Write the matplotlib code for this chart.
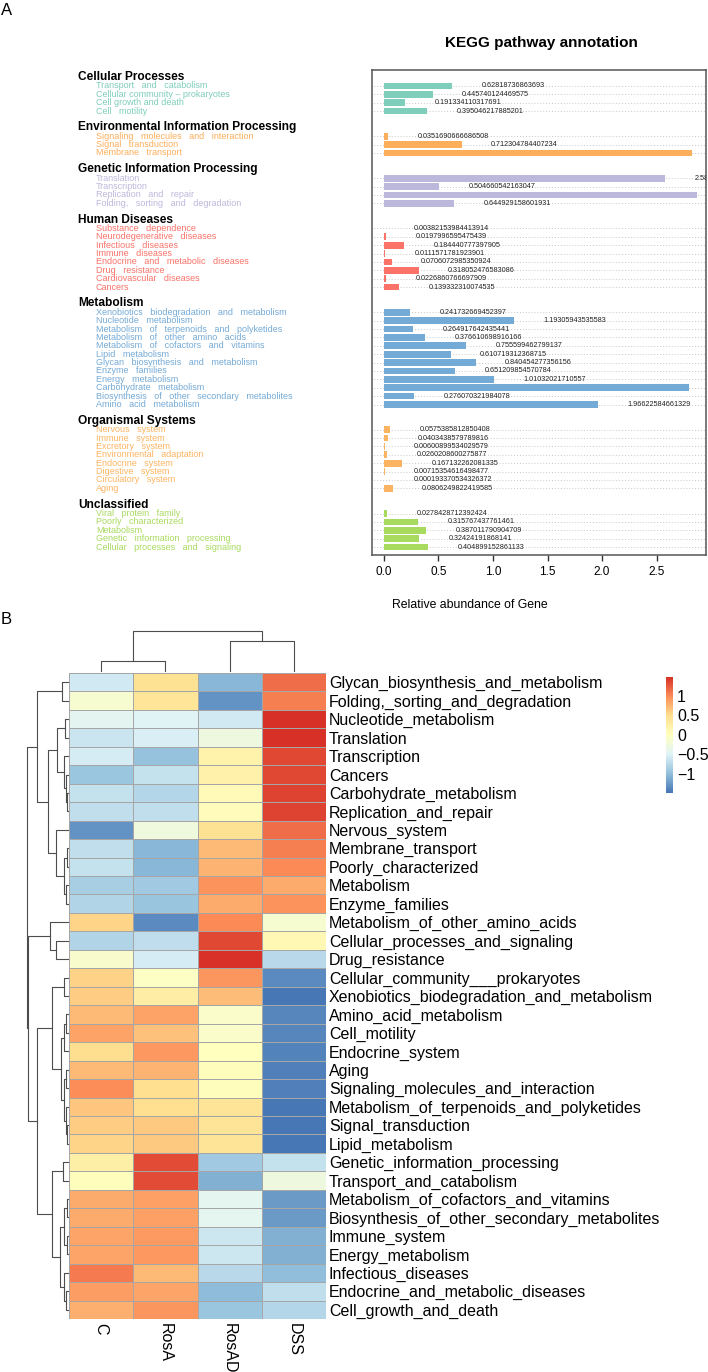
import matplotlib
matplotlib.use("Agg")
import matplotlib.pyplot as plt
from matplotlib import transforms
from matplotlib.colors import LinearSegmentedColormap

plt.rcParams['font.family'] = ['Liberation Sans', 'DejaVu Sans']

W, H = 708, 1372


def fx(px):
    return px / W


def fy(px):
    return 1 - px / H


# ---------------- Panel A: KEGG pathway annotation ----------------
groups = ["Cellular Processes", "Environmental Information Processing",
          "Genetic Information Processing", "Human Diseases", "Metabolism",
          "Organismal Systems", "Unclassified"]
group_colors = ["#7fcdbb", "#fdae5b", "#bcb8dc", "#fa7268", "#74aad6", "#fdb462", "#a8da5e"]

cellular_terms = ["Transport   and   catabolism", "Cellular community – prokaryotes",
                  "Cell growth and death", "Cell   motility"]
cellular_vals = [0.62818736863693, 0.445740124469575, 0.191334110317691, 0.395046217885201]

environ_terms = ["Signaling   molecules   and   interaction", "Signal   transduction",
                 "Membrane   transport"]
environ_vals = [0.0351690666686508, 0.712304784407234, 2.83]

genetic_terms = ["Translation", "Transcription", "Replication   and   repair",
                 "Folding,   sorting   and   degradation"]
genetic_vals = [2.58, 0.504660542163047, 2.87, 0.644929158601931]

disease_terms = ["Substance   dependence", "Neurodegenerative   diseases", "Infectious   diseases",
                 "Immune   diseases", "Endocrine   and   metabolic   diseases", "Drug   resistance",
                 "Cardiovascular   diseases", "Cancers"]
disease_vals = [0.00382153984413914, 0.0197996595475439, 0.184440777397905, 0.0111571781923901,
                0.0706072985350924, 0.318052476583086, 0.0226860766697909, 0.139332310074535]

metab_terms = ["Xenobiotics   biodegradation   and   metabolism", "Nucleotide   metabolism",
               "Metabolism   of   terpenoids   and   polyketides", "Metabolism   of   other   amino   acids",
               "Metabolism   of   cofactors   and   vitamins", "Lipid   metabolism",
               "Glycan   biosynthesis   and   metabolism", "Enzyme   families", "Energy   metabolism",
               "Carbohydrate   metabolism", "Biosynthesis   of   other   secondary   metabolites",
               "Amino   acid   metabolism"]
metab_vals = [0.241732669452397, 1.19305943535583, 0.264917642435441, 0.376610698916166,
              0.755599462799137, 0.610719312368715, 0.840454277356156, 0.651209854570784,
              1.01032021710557, 2.80, 0.276070321984078, 1.96622584661329]

organism_terms = ["Nervous   system", "Immune   system", "Excretory   system",
                  "Environmental   adaptation", "Endocrine   system", "Digestive   system",
                  "Circulatory   system", "Aging"]
organism_vals = [0.0575385812850408, 0.0403438579789816, 0.00600899534029579, 0.0260208600275877,
                 0.167132262081335, 0.00715354616498477, 0.000193370534326372, 0.0806249822419585]

unclass_terms = ["Viral   protein   family", "Poorly   characterized", "Metabolism",
                 "Genetic   information   processing", "Cellular   processes   and   signaling"]
unclass_vals = [0.0278428712392424, 0.315767437761461, 0.387011790904709,
                0.32424191868141, 0.404899152861133]

group_terms = [cellular_terms, environ_terms, genetic_terms, disease_terms,
               metab_terms, organism_terms, unclass_terms]
group_vals = [cellular_vals, environ_vals, genetic_vals, disease_vals,
              metab_vals, organism_vals, unclass_vals]

# ---------------- Panel B: heatmap (row z-scores) ----------------
row_names = ["Glycan_biosynthesis_and_metabolism", "Folding,_sorting_and_degradation",
             "Nucleotide_metabolism", "Translation", "Transcription", "Cancers",
             "Carbohydrate_metabolism", "Replication_and_repair", "Nervous_system",
             "Membrane_transport", "Poorly_characterized", "Metabolism", "Enzyme_families",
             "Metabolism_of_other_amino_acids", "Cellular_processes_and_signaling",
             "Drug_resistance", "Cellular_community___prokaryotes",
             "Xenobiotics_biodegradation_and_metabolism", "Amino_acid_metabolism",
             "Cell_motility", "Endocrine_system", "Aging", "Signaling_molecules_and_interaction",
             "Metabolism_of_terpenoids_and_polyketides", "Signal_transduction",
             "Lipid_metabolism", "Genetic_information_processing", "Transport_and_catabolism",
             "Metabolism_of_cofactors_and_vitamins", "Biosynthesis_of_other_secondary_metabolites",
             "Immune_system", "Energy_metabolism", "Infectious_diseases",
             "Endocrine_and_metabolic_diseases", "Cell_growth_and_death"]
col_names = ["C", "RosA", "RosAD", "DSS"]

z_C = [-0.6, -0.15, -0.45, -0.65, -0.57, -0.93, -0.68, -0.7, -1.3, -0.7, -0.68, -0.85,
       -0.8, 0.55, -0.8, -0.12, 0.57, 0.6, 0.72, 0.85, 0.5, 0.72, 0.98, 0.65, 0.6, 0.55,
       0.25, 0.02, 0.8, 0.8, 0.83, 0.83, 1.08, 0.88, 0.78]
z_RosA = [0.45, 0.4, -0.48, -0.55, -0.97, -0.68, -0.78, -0.7, -0.27, -1.05, -1.05, -0.9,
          -0.95, -1.35, -0.72, -0.58, -0.05, 0.28, 0.85, 0.67, 0.92, 0.75, 0.48, 0.48, 0.63,
          0.63, 1.32, 1.32, 0.87, 0.87, 0.9, 0.92, 0.72, 0.83, 0.93]
z_RosAD = [-1.05, -1.3, -0.6, -0.28, 0.2, 0.22, 0.08, 0.03, 0.45, 0.72, 0.75, 0.95,
           0.8, 1.0, 1.35, 1.46, 0.93, 0.7, -0.1, -0.1, 0.0, 0.02, 0.02, 0.42, 0.42, 0.42,
           -0.9, -1.1, -0.42, -0.42, -0.62, -0.62, -0.75, -1.02, -0.93]
z_DSS = [1.15, 1.05, 1.48, 1.48, 1.35, 1.35, 1.38, 1.38, 1.15, 1.05, 1.0, 0.8,
         0.95, -0.15, 0.1, -0.75, -1.35, -1.48, -1.38, -1.38, -1.4, -1.42, -1.42, -1.48,
         -1.48, -1.48, -0.68, -0.28, -1.25, -1.25, -1.1, -1.1, -1.0, -0.7, -0.78]

# hierarchical clustering: (child_a, child_b, height)
row_merges = [(0, 1, 1.4), (2, 3, 0.7), (6, 7, 0.3), (5, 37, 0.6), (4, 38, 1.0),
              (36, 39, 2.6), (9, 10, 0.4), (11, 12, 0.5), (41, 42, 1.0), (8, 43, 2.9),
              (40, 44, 5.0), (35, 45, 7.6), (14, 15, 2.9), (13, 47, 4.5),
              (16, 17, 0.95), (18, 19, 0.5), (50, 20, 0.9), (21, 22, 0.6), (24, 25, 0.3),
              (23, 53, 0.6), (52, 54, 1.0), (51, 55, 1.7), (49, 56, 4.05), (26, 27, 1.2),
              (28, 29, 0.2), (30, 31, 0.25), (59, 60, 0.9), (33, 34, 0.5), (32, 62, 1.0),
              (61, 63, 2.1), (58, 64, 4.05), (57, 65, 7.6), (48, 66, 9.76), (46, 67, 10.0)]
col_merges = [(0, 1, 0.26), (2, 3, 0.74), (4, 5, 1.0)]

fig = plt.figure(figsize=(W / 100, H / 100), dpi=100)

# ---- panel A axes
axA = fig.add_axes([fx(372), fy(555), fx(706) - fx(372), fy(70) - fy(555)])
xmax = 2.954
row = 0
header_rows = []
bar_rows, bar_vals, bar_cols = [], [], []
label_rows = []
for g, terms, vals, col in zip(groups, group_terms, group_vals, group_colors):
    header_rows.append(row - 1.05)
    for t, v in zip(terms, vals):
        bar_rows.append(row)
        bar_vals.append(v)
        bar_cols.append(col)
        label_rows.append((t, col))
        row += 1
    row += 2

axA.hlines(bar_rows, -0.2, 3.2, colors="#c8c8c8", linestyles=(0, (1, 2)), lw=0.7, zorder=1)
axA.barh(bar_rows, bar_vals, height=0.8, color=bar_cols, zorder=2)
for r, v in zip(bar_rows, bar_vals):
    if v + 0.27 < xmax:
        axA.text(v + 0.27, r, str(v), fontsize=5.2, va="center", ha="left",
                 color="#222222", clip_on=True, zorder=3)
axA.set_xlim(-0.11, xmax)
axA.set_ylim(55.95, -1.9)
axA.set_yticks([])
axA.set_xticks([0, 0.5, 1.0, 1.5, 2.0, 2.5])
axA.set_xticklabels(["0.0", "0.5", "1.0", "1.5", "2.0", "2.5"])
axA.tick_params(axis="x", length=4, width=1, color="#333333", labelsize=8.5, pad=4)
for s in axA.spines.values():
    s.set_color("#555555")
    s.set_linewidth(1.1)

trans = transforms.blended_transform_factory(fig.transFigure, axA.transData)
for g, r in zip(groups, header_rows):
    axA.text(fx(78), r, g, transform=trans, fontsize=8.6, fontweight="bold",
             va="center", ha="left", clip_on=False)
for (t, col), r in zip(label_rows, bar_rows):
    axA.text(fx(96), r, t, transform=trans, fontsize=6.5, color=col,
             va="center", ha="left", clip_on=False)

fig.text(fx(541), fy(43), "KEGG pathway annotation", fontsize=11, fontweight="bold",
         ha="center", va="center")
fig.text(fx(470), fy(605), "Relative abundance of Gene", fontsize=8.8, ha="center", va="center")
fig.text(fx(1), fy(3), "A", fontsize=12, ha="left", va="top")

# ---- panel B heatmap
cmap = LinearSegmentedColormap.from_list(
    "rdylbu_r", ["#4575B4", "#91BFDB", "#E0F3F8", "#FFFFBF", "#FEE090", "#FC8D59", "#D73027"])
Z = [[a, b, c, d] for a, b, c, d in zip(z_C, z_RosA, z_RosAD, z_DSS)]
n_rows, n_cols = len(row_names), len(col_names)

axH = fig.add_axes([fx(69), fy(1319), fx(326) - fx(69), fy(673) - fy(1319)])
mesh = axH.pcolormesh(Z, cmap=cmap, vmin=-1.5, vmax=1.48, edgecolors="#a6a6a6", linewidth=0.6)
axH.set_xlim(0, n_cols)
axH.set_ylim(n_rows, 0)
axH.set_yticks([i + 0.5 for i in range(n_rows)])
axH.set_yticklabels(row_names)
axH.yaxis.tick_right()
axH.set_xticks([i + 0.5 for i in range(n_cols)])
axH.set_xticklabels(col_names, rotation=-90, va="top", ha="center")
axH.tick_params(length=0, labelsize=11.5)
axH.tick_params(axis="y", pad=2)
axH.tick_params(axis="x", pad=3)
for s in axH.spines.values():
    s.set_visible(False)


def draw_dendro(ax, merges, n, vertical):
    pos = {i: i + 0.5 for i in range(n)}
    hgt = {i: 0.0 for i in range(n)}
    for k, (a, b, h) in enumerate(merges):
        node = n + k
        xs = [hgt[a], h, h, hgt[b]]
        ys = [pos[a], pos[a], pos[b], pos[b]]
        if vertical:
            ax.plot(ys, xs, color="#4d4d4d", lw=0.8, clip_on=False)
        else:
            ax.plot(xs, ys, color="#4d4d4d", lw=0.8, clip_on=False)
        pos[node] = (pos[a] + pos[b]) / 2
        hgt[node] = h


axR = fig.add_axes([fx(27), fy(1319), fx(69) - fx(27), fy(673) - fy(1319)])
draw_dendro(axR, row_merges, n_rows, vertical=False)
axR.set_xlim(10.0, -0.2)
axR.set_ylim(n_rows, 0)
axR.axis("off")

axC = fig.add_axes([fx(69), fy(671), fx(326) - fx(69), fy(631) - fy(671)])
draw_dendro(axC, col_merges, n_cols, vertical=True)
axC.set_xlim(0, n_cols)
axC.set_ylim(0, 1.0)
axC.axis("off")

fig.text(fx(1), fy(612), "B", fontsize=12, ha="left", va="top")

cax = fig.add_axes([fx(666), fy(793), fx(7), fy(677) - fy(793)])
cb = fig.colorbar(mesh, cax=cax, ticks=[-1, -0.5, 0, 0.5, 1])
cb.set_ticklabels(["\u22121", "\u22120.5", "0", "0.5", "1"])
cb.outline.set_visible(False)
cax.tick_params(length=0, labelsize=11.5, pad=3)

fig.savefig("out.png", dpi=100)
